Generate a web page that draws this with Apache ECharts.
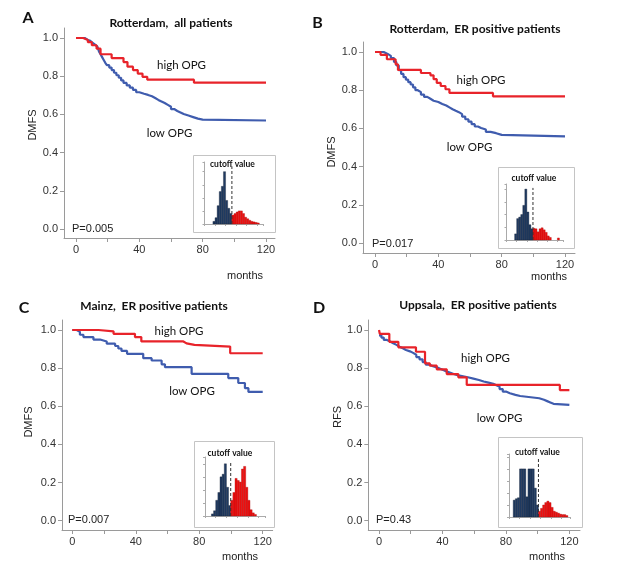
<!DOCTYPE html>
<html><head><meta charset="utf-8">
<script src="https://cdn.jsdelivr.net/npm/echarts@6/dist/echarts.min.js"></script>
<style>html,body{margin:0;padding:0;background:#fff}#c{width:618px;height:564px}</style>
</head><body><div id="c"></div>
<script>
// ---------------- data ----------------
// Kaplan-Meier steps [months, survival]
const aHigh = [[0,1],[4.5,0.99],[7.5,0.978],[10,0.962],[13,0.944],[15.5,0.915],[22.5,0.895],[30,0.874],[32.5,0.85],[36,0.832],[39,0.814],[42,0.797],[45,0.782],[74.5,0.766],[120,0.766]];
const aLow = [[0,1],[5.5,0.99],[7.5,0.985],[9,0.975],[10.5,0.965],[12,0.955],[13.5,0.945],[14.5,0.93],[15.5,0.915],[16.5,0.9],[17.5,0.885],[18.5,0.87],[19.5,0.858],[21,0.845],[22.5,0.832],[24,0.818],[25.5,0.805],[27,0.792],[28.5,0.778],[30,0.765],[32,0.752],[34,0.74],[36,0.728],[38,0.716],[40,0.708],[43,0.702],[45.5,0.695],[48,0.686],[50,0.676],[52,0.668],[54,0.66],[56,0.65],[58,0.64],[60,0.628],[62,0.618],[64,0.61],[66,0.602],[68,0.594],[71,0.586],[74,0.578],[77,0.573],[80,0.568],[120,0.568]];
const bHigh = [[0,1],[3.5,0.985],[7.5,0.962],[13,0.936],[14.5,0.906],[29,0.89],[35,0.878],[37,0.858],[39,0.838],[41.5,0.822],[44.5,0.805],[47,0.786],[74.5,0.768],[120,0.768]];
const bLow = [[0,1],[5.5,0.99],[8,0.98],[10,0.968],[12,0.948],[13.5,0.93],[15,0.905],[16.5,0.885],[18,0.868],[19.5,0.855],[21,0.842],[22.5,0.83],[24,0.815],[25.5,0.8],[27,0.79],[29,0.777],[31,0.765],[33,0.755],[35,0.745],[37,0.738],[40,0.728],[42.5,0.72],[45,0.71],[47,0.7],[49,0.692],[51,0.685],[53,0.675],[55,0.662],[57,0.648],[59,0.635],[61,0.622],[63,0.61],[65,0.602],[67,0.594],[70,0.582],[73,0.575],[76.5,0.566],[80,0.558],[120,0.558]];
const cHigh = [[0,1],[16.5,0.993],[26,0.98],[39.5,0.963],[43.5,0.94],[70,0.93],[72,0.922],[77,0.913],[99.5,0.878],[120,0.878]];
const cLow = [[0,1],[2.8,0.99],[4.8,0.975],[7,0.963],[13.3,0.95],[17.5,0.94],[21.7,0.928],[27,0.916],[29,0.903],[31,0.89],[34.5,0.875],[44.7,0.852],[50,0.84],[56.3,0.82],[58.4,0.805],[75.2,0.77],[98.3,0.748],[104.6,0.722],[108.8,0.695],[111,0.675],[120,0.675]];
const dHigh = [[0,1],[0.5,0.98],[6.5,0.938],[12.2,0.909],[23.3,0.886],[29,0.825],[32,0.813],[36.4,0.794],[42.7,0.769],[50,0.752],[55.3,0.712],[114,0.685],[120,0.685]];
const dLow = [[0,0.972],[1.5,0.96],[3,0.948],[5,0.94],[7,0.93],[9,0.922],[11,0.912],[13,0.904],[15,0.895],[17,0.888],[19.5,0.88],[21.5,0.87],[23.5,0.858],[25.5,0.846],[27.5,0.832],[29.5,0.818],[32,0.81],[34,0.804],[36.5,0.797],[38.5,0.79],[40.5,0.783],[42.5,0.776],[45,0.769],[47,0.762],[50,0.757],[53,0.752],[56,0.745],[59.5,0.738],[63,0.73],[66,0.724],[69,0.718],[72,0.71],[74,0.703],[76,0.69],[78,0.677],[80,0.668],[82.5,0.66],[86,0.654],[89,0.65],[93,0.646],[97,0.642],[101,0.634],[104,0.627],[106,0.62],[108,0.613],[110,0.607],[120,0.605]];

// inset histograms (relative bin heights), cutoff = first "high" bin
const histA = [0,0,0,0,0.05,0.12,0.35,0.62,0.72,1.0,0.45,0.3,0.2,0.17,0.2,0.23,0.25,0.25,0.2,0.13,0.1,0.07,0.05,0.04,0.03,0.02,0,0];
const histB = [0,0,0,0,0.12,0.42,0.45,0.5,0.68,1.0,0.55,0.3,0.22,0.23,0.22,0.16,0.22,0.24,0.2,0.15,0.08,0.05,0,0,0,0.04,0,0];
const histC = [0,0,0,0.04,0.1,0.3,0.45,0.75,0.8,1.0,0.55,0.2,0.3,0.45,0.72,0.68,0.65,0.9,0.95,0.55,0.3,0.12,0.06,0.03,0,0,0,0];
const histD = [0,0,0.35,0.38,0.4,1.0,1.0,1.0,0.42,1.0,1.0,1.0,0.6,0.25,0.12,0.18,0.25,0.3,0.33,0.3,0.2,0.12,0.1,0.08,0.06,0.05,0.05,0.03,0];
const cutoffs = [13, 13, 12, 14];

// tick labels
const xLabels = [0, 40, 80, 120];
const xTicks = [0, 20, 40, 60, 80, 100, 120];
const yLabels = [0, 0.2, 0.4, 0.6, 0.8, 1.0];

// text
const letters = ['A', 'B', 'C', 'D'];
const titles = ['Rotterdam,  all patients', 'Rotterdam,  ER positive patients', 'Mainz,  ER positive patients', 'Uppsala,  ER positive patients'];
const pValues = ['P=0.005', 'P=0.017', 'P=0.007', 'P=0.43'];
const yNames = ['DMFS', 'DMFS', 'DMFS', 'RFS'];

// ---------------- layout ----------------
const RED = '#e8232a', BLUE = '#3f5cae', NAVY = '#203b62', HRED = '#ee1111';
const main = [
  {grid:{left:64, top:28, width:211, height:210}, x:[-7.58,125.68], y:[-0.0471,1.0524], high:aHigh, low:aLow},
  {grid:{left:363, top:42, width:212, height:211}, x:[-7.58,126.3], y:[-0.0524,1.0524], high:bHigh, low:bLow},
  {grid:{left:62, top:320, width:210.7, height:210}, x:[-6.49,126.3], y:[-0.0488,1.0524], high:cHigh, low:cLow},
  {grid:{left:368.3, top:320, width:211.7, height:210}, x:[-6.75,126.7], y:[-0.0488,1.0524], high:dHigh, low:dLow}
];
const insets = [
  {grid:{left:204.5, top:162, width:59, height:62}, ymax:1.185, hist:histA, box:[193,155,82,77], txt:[210,164.5]},
  {grid:{left:506.5, top:184, width:57, height:56}, ymax:1.1, hist:histB, box:[498,167,76,81], txt:[511.5,178.5]},
  {grid:{left:205, top:457, width:60, height:59}, ymax:1.13, hist:histC, box:[194,441,80,86], txt:[207.5,453.5]},
  {grid:{left:509, top:454, width:61, height:63}, ymax:1.31, hist:histD, box:[498,437,84,90], txt:[515,452]}
];
const txt = {
  letter: [[28,17.5],[317.5,23],[24,308],[319,307.5]],
  title: [[171,23],[475,29],[154,306],[478,305]],
  high: [[181.5,65],[481,80],[179,331],[485.5,358]],
  low: [[169.5,133],[469.5,147],[192,391],[499.5,418]],
  p: [[72,229],[372,244],[68,520],[376,520]],
  yname: [[33,125],[332,152],[29,422],[338,417]],
  months: [[245,275.5],[549,277],[240,557],[547,557]]
};

const AX = '#9a9a9a', LAB = '#333';
const grids = [], xAxes = [], yAxes = [], series = [], graphics = [];

main.forEach((p, i) => {
  grids.push(p.grid);
  xAxes.push({type:'value', gridIndex:i, min:p.x[0], max:p.x[1],
    axisLine:{show:true, onZero:false, lineStyle:{color:AX, width:1}},
    axisTick:{show:true, length:4, customValues:xTicks, lineStyle:{color:AX}},
    axisLabel:{show:true, customValues:xLabels, margin:6, color:LAB, fontSize:11, fontFamily:'Liberation Sans'},
    splitLine:{show:false}});
  yAxes.push({type:'value', gridIndex:i, min:p.y[0], max:p.y[1],
    axisLine:{show:true, onZero:false, lineStyle:{color:AX, width:1}},
    axisTick:{show:true, length:4, customValues:yLabels, lineStyle:{color:AX}},
    axisLabel:{show:true, customValues:yLabels, margin:6, color:LAB, fontSize:11, fontFamily:'Liberation Sans', formatter:v => v.toFixed(1)},
    splitLine:{show:false}});
});
insets.forEach((p, j) => {
  const gi = 4 + j;
  grids.push(p.grid);
  xAxes.push({type:'value', gridIndex:gi, min:0, max:p.hist.length, interval:5,
    axisLine:{show:true, onZero:false, lineStyle:{color:'#aaa', width:1}},
    axisTick:{show:true, length:2, lineStyle:{color:'#aaa'}},
    axisLabel:{show:false}, splitLine:{show:false}});
  yAxes.push({type:'value', gridIndex:gi, min:0, max:p.ymax, interval:0.25,
    axisLine:{show:true, onZero:false, lineStyle:{color:'#aaa', width:1}},
    axisTick:{show:true, length:2, lineStyle:{color:'#aaa'}},
    axisLabel:{show:false}, splitLine:{show:false}});
});

main.forEach((p, i) => {
  series.push({type:'line', xAxisIndex:i, yAxisIndex:i, data:p.low, step:'end', symbol:'none', lineStyle:{color:BLUE, width:2.2}, z:3, silent:true});
  series.push({type:'line', xAxisIndex:i, yAxisIndex:i, data:p.high, step:'end', symbol:'none', lineStyle:{color:RED, width:2.2}, z:4, silent:true});
});
insets.forEach((p, j) => {
  const gi = 4 + j, cut = cutoffs[j];
  series.push({type:'custom', xAxisIndex:gi, yAxisIndex:gi, silent:true, z:5,
    data: p.hist.map((v, k) => [k, v]).filter(d => d[1] > 0),
    renderItem: (params, api) => {
      const k = api.value(0), h = api.value(1);
      const a = api.coord([k, h]), b = api.coord([k + 1, 0]);
      const low = k < cut;
      return {type:'rect', shape:{x:a[0], y:a[1], width:b[0]-a[0], height:b[1]-a[1]},
        style:{fill: low ? NAVY : HRED, stroke: low ? '#101c30' : '#a80808', lineWidth:0.35}};
    }});
  series.push({type:'line', xAxisIndex:gi, yAxisIndex:gi, data:[[cut,0],[cut,p.ymax*0.93]], symbol:'none', silent:true, z:6,
    lineStyle:{color:'#333', width:1, type:[3,2]}});
  graphics.push({type:'rect', shape:{x:p.box[0]+0.5, y:p.box[1]+0.5, width:p.box[2], height:p.box[3]}, style:{fill:'none', stroke:'#c4c4c4', lineWidth:1}, z:1});
  graphics.push({type:'text', x:p.txt[0], y:p.txt[1], style:{text:'cutoff value', font:'bold 8.5px Lato', fill:'#111', textAlign:'left', textVerticalAlign:'middle'}, z:10});
});

function T(pos, text, font, opts) {
  return Object.assign({type:'text', x:pos[0], y:pos[1], style:Object.assign({text:text, font:font, fill:'#111', textAlign:'center', textVerticalAlign:'middle'}, (opts && opts.style) || {})}, (opts && opts.extra) || {});
}
for (let i = 0; i < 4; i++) {
  graphics.push(T(txt.letter[i], letters[i], 'bold 16px Lato'));
  graphics.push(T(txt.title[i], titles[i], 'bold 12px Lato'));
  graphics.push(T(txt.high[i], 'high OPG', '11.5px Lato'));
  graphics.push(T(txt.low[i], 'low OPG', '11.5px Lato'));
  graphics.push(T(txt.p[i], pValues[i], '11px "Liberation Sans"', {style:{textAlign:'left', fill:'#222'}}));
  graphics.push(T(txt.yname[i], yNames[i], '11px "Liberation Sans"', {style:{fill:'#222'}, extra:{rotation:Math.PI/2}}));
  graphics.push(T(txt.months[i], 'months', '11px "Liberation Sans"', {style:{fill:'#222'}}));
}

const chart = echarts.init(document.getElementById('c'), null, {renderer:'canvas'});
chart.setOption({animation:false, backgroundColor:'#fff', grid:grids, xAxis:xAxes, yAxis:yAxes, series:series, graphic:graphics});
</script></body></html>
